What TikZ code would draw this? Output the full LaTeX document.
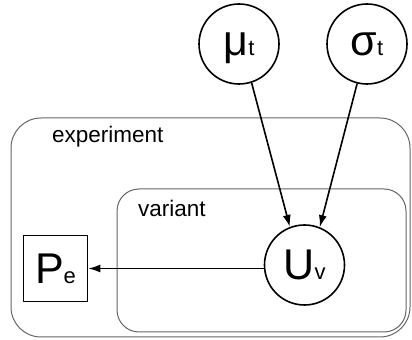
\documentclass[tikz,border=0pt]{standalone}
\usepackage{fontspec}
\setmainfont{Liberation Sans}
\usetikzlibrary{arrows.meta}
\newcommand{\symlabel}[2]{{\fontsize{43bp}{43bp}\selectfont #1}{\fontsize{22bp}{22bp}\selectfont #2}}
\tikzset{
  varnode/.style={draw, circle, minimum size=80bp, inner sep=0pt, line width=1.6bp, text depth=0pt},
  obsnode/.style={draw, rectangle, minimum width=64bp, minimum height=66bp, inner sep=0pt, line width=1.6bp, text depth=0pt},
  plate/.style={draw=black!60, line width=1bp},
  platelabel/.style={anchor=base west, inner sep=0pt, font=\fontsize{22.5bp}{22.5bp}\selectfont},
  edge/.style={->, line width=1.6bp},
}
\begin{document}
\begin{tikzpicture}[>={Latex[length=12bp,width=8bp]},line join=bevel,]
  \useasboundingbox (0bp,0bp) rectangle (412bp,340bp);
%%
  % Plate: experiment
  \draw [plate, rounded corners=30bp] (11bp,3bp) rectangle (410bp,222bp);
  \node [platelabel] (explabel) at (52bp,197bp) {experiment};
  % Plate: variant
  \draw [plate, rounded corners=22bp] (117bp,8bp) rectangle (406bp,151bp);
  \node [platelabel] (varlabel) at (138bp,123bp) {variant};
  % Node: mu
  \node [varnode] (mu) at (239bp,296bp) {\symlabel{μ}{t}};
  % Node: sigma
  \node [varnode] (sigma) at (367bp,296bp) {\symlabel{σ}{t}};
  % Node: U
  \node [varnode] (U) at (304.5bp,75bp) {\symlabel{U}{v}};
  % Node: Pe
  \node [obsnode] (Pe) at (55.5bp,71.5bp) {\symlabel{P}{e}};
  % Edge: mu -> U
  \draw [edge] (mu.-72) -- (U.111);
  % Edge: sigma -> U
  \draw [edge] (sigma.-104) -- (U.68);
  % Edge: U -> Pe
  \draw [edge] (U.west |- Pe.east) -- (Pe.east);
%
\end{tikzpicture}
\end{document}
